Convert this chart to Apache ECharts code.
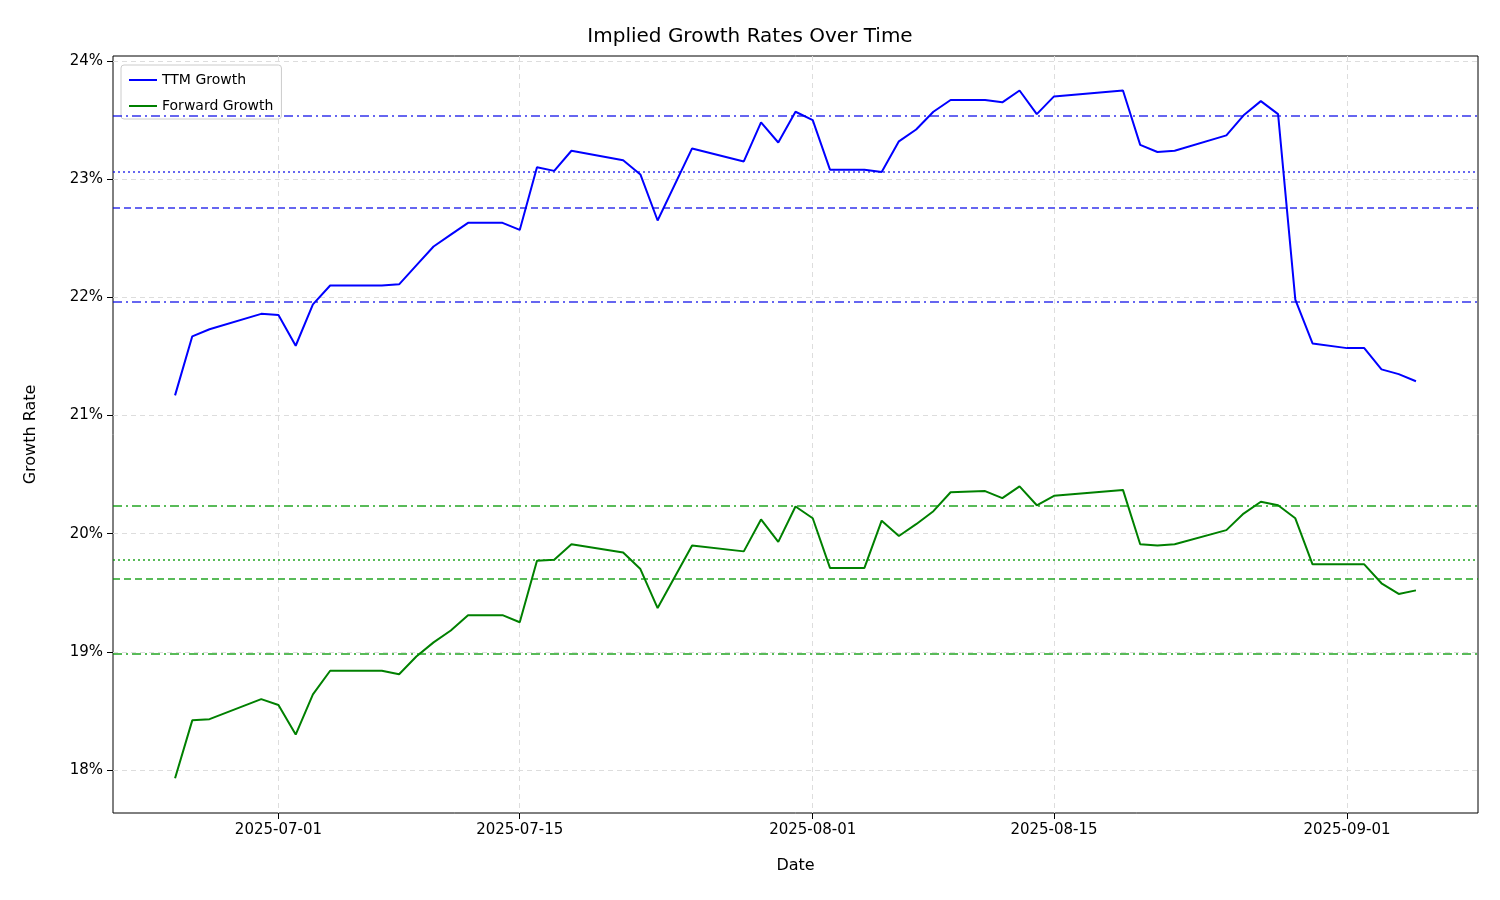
<!DOCTYPE html>
<html><head><meta charset="utf-8">
<script src="https://cdn.jsdelivr.net/npm/echarts@6/dist/echarts.min.js"></script>
<style>html,body{margin:0;padding:0;background:#fff}#c{width:1500px;height:900px}</style>
</head><body><div id="c"></div>
<script>
const dates = ["2025-06-25","2025-06-26","2025-06-27","2025-06-30","2025-07-01","2025-07-02","2025-07-03","2025-07-04","2025-07-07","2025-07-08","2025-07-09","2025-07-10","2025-07-11","2025-07-12","2025-07-14","2025-07-15","2025-07-16","2025-07-17","2025-07-18","2025-07-21","2025-07-22","2025-07-23","2025-07-25","2025-07-28","2025-07-29","2025-07-30","2025-07-31","2025-08-01","2025-08-02","2025-08-04","2025-08-05","2025-08-06","2025-08-07","2025-08-08","2025-08-09","2025-08-11","2025-08-12","2025-08-13","2025-08-14","2025-08-15","2025-08-19","2025-08-20","2025-08-21","2025-08-22","2025-08-25","2025-08-26","2025-08-27","2025-08-28","2025-08-29","2025-08-30","2025-09-01","2025-09-02","2025-09-03","2025-09-04","2025-09-05"];
const ttmGrowth = [21.17,21.67,21.73,21.86,21.85,21.59,21.94,22.10,22.10,22.11,22.27,22.43,22.53,22.63,22.63,22.57,23.10,23.07,23.24,23.16,23.04,22.65,23.26,23.15,23.48,23.31,23.57,23.50,23.08,23.08,23.06,23.32,23.42,23.57,23.67,23.67,23.65,23.75,23.55,23.70,23.75,23.29,23.23,23.24,23.37,23.54,23.66,23.55,21.98,21.61,21.57,21.57,21.39,21.35,21.29];
const fwdGrowth = [17.93,18.42,18.43,18.60,18.55,18.30,18.64,18.84,18.84,18.81,18.96,19.08,19.18,19.31,19.31,19.25,19.77,19.78,19.91,19.84,19.70,19.37,19.90,19.85,20.12,19.93,20.23,20.13,19.71,19.71,20.11,19.98,20.08,20.19,20.35,20.36,20.30,20.40,20.24,20.32,20.37,19.91,19.90,19.91,20.03,20.17,20.27,20.24,20.13,19.74,19.74,19.74,19.58,19.49,19.52];
const ttmRefs = {dashdot:[23.54,21.96], dotted:[23.06], dashed:[22.76]};
const fwdRefs = {dashdot:[20.24,18.98], dotted:[19.78], dashed:[19.62]};
const xTicks = ["2025-07-01","2025-07-15","2025-08-01","2025-08-15","2025-09-01"];
const yTicks = [18,19,20,21,22,23,24];

const ts = s => Date.parse(s + "T00:00:00Z");
const DAY = 86400000;
function refLines(r, color){
  const out=[];
  r.dashdot.forEach(v=>out.push({yAxis:v,lineStyle:{type:[9,4,2,4],color}}));
  r.dotted.forEach(v=>out.push({yAxis:v,lineStyle:{type:[2,3],color}}));
  r.dashed.forEach(v=>out.push({yAxis:v,lineStyle:{type:[7,4],color}}));
  return {symbol:'none',silent:true,label:{show:false},lineStyle:{width:2},data:out};
}
const chart = echarts.init(document.getElementById('c'));
const fmtDate = v => { const d=new Date(v); return d.getUTCFullYear()+'-'+String(d.getUTCMonth()+1).padStart(2,'0')+'-'+String(d.getUTCDate()).padStart(2,'0'); };
chart.setOption({
  animation:false,
  textStyle:{fontFamily:'DejaVu Sans'},
  title:{text:'Implied Growth Rates Over Time',left:'center',top:22,textStyle:{fontSize:20,fontWeight:'normal',color:'#000',fontFamily:'DejaVu Sans'}},
  grid:{left:113,right:22,top:56,bottom:87,show:true,borderColor:'#000',borderWidth:1},
  legend:{orient:'vertical',left:121,top:65,itemWidth:28,itemHeight:2,itemGap:12,padding:[8,8,6,8],
    backgroundColor:'#fff',borderColor:'#ccc',borderWidth:1,borderRadius:3,
    textStyle:{fontSize:14,color:'#000'},icon:'rect',
    data:['TTM Growth','Forward Growth']},
  xAxis:{type:'value',min:ts("2025-06-21")+0.4*DAY,max:ts("2025-09-08")+0.6*DAY,
    name:'Date',nameLocation:'middle',nameGap:45,nameTextStyle:{fontSize:16,color:'#000'},
    axisLine:{show:false},
    axisTick:{show:true,inside:false,customValues:xTicks.map(ts),length:6,lineStyle:{color:'#000'}},
    axisLabel:{customValues:xTicks.map(ts),formatter:fmtDate,fontSize:15,color:'#000',margin:10},
    splitLine:{show:true,lineStyle:{type:[5,4],color:'#ddd'}}},
  yAxis:{type:'value',min:17.636,max:24.042,
    name:'Growth Rate',nameLocation:'middle',nameGap:74,nameTextStyle:{fontSize:16,color:'#000'},
    axisLine:{show:false},
    axisTick:{show:true,inside:false,customValues:yTicks,length:6,lineStyle:{color:'#000'}},
    axisLabel:{customValues:yTicks,formatter:v=>Math.round(v)+'%',fontSize:15,color:'#000',margin:10},
    splitLine:{show:true,lineStyle:{type:[5,4],color:'#ddd'}}},
  series:[
    {name:'TTM Growth',type:'line',data:dates.map((d,i)=>[ts(d),ttmGrowth[i]]),showSymbol:false,
      lineStyle:{color:'#0000ff',width:2},itemStyle:{color:'#0000ff'},markLine:refLines(ttmRefs,'rgba(0,0,230,0.6)')},
    {name:'Forward Growth',type:'line',data:dates.map((d,i)=>[ts(d),fwdGrowth[i]]),showSymbol:false,
      lineStyle:{color:'#008000',width:2},itemStyle:{color:'#008000'},markLine:refLines(fwdRefs,'rgba(0,150,0,0.65)')}
  ]
});
</script></body></html>
